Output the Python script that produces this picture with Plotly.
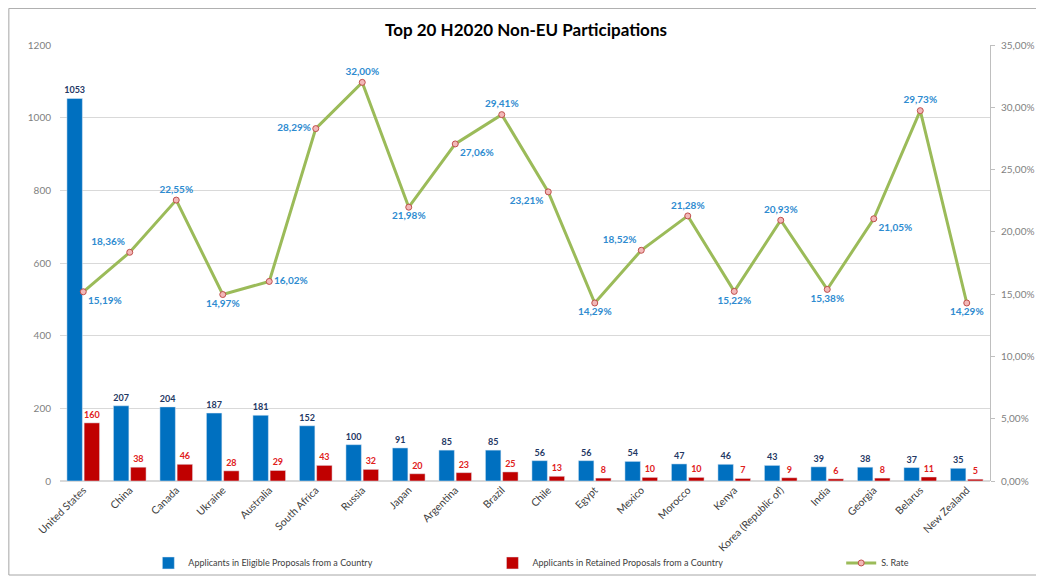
import plotly.graph_objects as go

countries = ["United States", "China", "Canada", "Ukraine", "Australia", "South Africa",
             "Russia", "Japan", "Argentina", "Brazil", "Chile", "Egypt", "Mexico",
             "Morocco", "Kenya", "Korea (Republic of)", "India", "Georgia", "Belarus",
             "New Zealand"]
eligible = [1053, 207, 204, 187, 181, 152, 100, 91, 85, 85, 56, 56, 54, 47, 46, 43, 39, 38, 37, 35]
retained = [160, 38, 46, 28, 29, 43, 32, 20, 23, 25, 13, 8, 10, 10, 7, 9, 6, 8, 11, 5]
rate = [0.1519, 0.1836, 0.2255, 0.1497, 0.1602, 0.2829, 0.3200, 0.2198, 0.2706, 0.2941,
        0.2321, 0.1429, 0.1852, 0.2128, 0.1522, 0.2093, 0.1538, 0.2105, 0.2973, 0.1429]
rate_label_pos = ["bottom right", "top left", "top center", "bottom center", "middle right",
                  "middle left", "top center", "bottom center", "bottom right", "top center",
                  "bottom left", "bottom center", "top left", "top center", "bottom center",
                  "top center", "bottom center", "bottom right", "top center", "bottom center"]

FONT = "Lato"
rate_text = ["<b>" + ("%.2f%%" % (r * 100)).replace(".", ",") + "</b>" for r in rate]

fig = go.Figure()
fig.add_trace(go.Bar(
    x=countries, y=eligible, name="Applicants in Eligible Proposals from a Country",
    marker=dict(color="#0070C0"), text=["<b>%d</b>" % v for v in eligible],
    textposition="outside", constraintext="none",
    textfont=dict(color="#1F3864", size=9, family=FONT), cliponaxis=False, legend="legend",
))
fig.add_trace(go.Bar(
    x=countries, y=retained, name="Applicants in Retained Proposals from a Country",
    marker=dict(color="#C00000"), text=["<b>%d</b>" % v for v in retained],
    textposition="outside", constraintext="none",
    textfont=dict(color="#E0201B", size=9, family=FONT), cliponaxis=False, legend="legend2",
))
fig.add_trace(go.Scatter(
    x=countries, y=rate, name="S. Rate", yaxis="y2", mode="lines+markers+text",
    line=dict(color="#9BBB59", width=3),
    marker=dict(symbol="circle", size=6, color="#F2B8B8", line=dict(color="#C0504D", width=1)),
    text=rate_text, textposition=rate_label_pos,
    textfont=dict(color="#2E8BD0", size=10, family=FONT), cliponaxis=False, legend="legend3",
))

leg_common = dict(orientation="h", y=-0.188, xanchor="left", yanchor="middle",
                  bgcolor="rgba(0,0,0,0)", font=dict(size=9, color="#404040", family=FONT))

# the page body adds an 8px offset, so the figure is sized to fit the window
fig.update_layout(
    width=1036, height=573,
    margin=dict(l=52, r=54, t=37, b=100, autoexpand=False),
    paper_bgcolor="white", plot_bgcolor="white",
    separators=",.",
    showlegend=True,
    font=dict(family=FONT, color="#404040"),
    title=dict(text="<b>Top 20 H2020 Non-EU Participations</b>", x=0.5, xanchor="center",
               y=0.9616, yanchor="middle", yref="container",
               font=dict(size=17, color="#000000", family=FONT)),
    barmode="group", bargap=0.26, bargroupgap=0.1,
    xaxis=dict(tickangle=-45, tickfont=dict(size=10.5, color="#404040"), showline=False,
               showgrid=False, ticks="", automargin=False, range=[-0.5, len(countries) - 0.5]),
    yaxis=dict(range=[0, 1200], dtick=200, showgrid=True, gridcolor="#D9D9D9", gridwidth=1,
               tickfont=dict(size=10, color="#7F7F7F"), zeroline=True, zerolinecolor="#D9D9D9",
               showline=False, ticks="", automargin=False, ticklabelstandoff=8),
    yaxis2=dict(range=[0, 0.35], dtick=0.05, tickformat=".2%", overlaying="y", side="right",
                showgrid=False, showline=True, linecolor="#BFBFBF", ticks="outside",
                ticklen=4, tickcolor="#BFBFBF", tickfont=dict(size=10, color="#7F7F7F"),
                zeroline=False, automargin=False, ticklabelstandoff=4),
    legend=dict(x=0.095, **leg_common),
    legend2=dict(x=0.465, **leg_common),
    legend3=dict(x=0.84, **leg_common),
    shapes=[dict(type="rect", xref="paper", yref="paper", x0=-0.055, x1=1.054,
                 y0=-0.2156, y1=1.084, line=dict(color="#A6A6A6", width=1), layer="below")],
)

fig.write_html("out.html")
